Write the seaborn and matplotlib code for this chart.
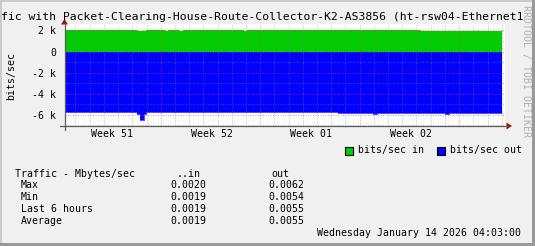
import datetime as dt
import numpy as np
import pandas as pd
import matplotlib
matplotlib.use("Agg")
import matplotlib.pyplot as plt
from matplotlib.patches import Rectangle, Polygon
from matplotlib.lines import Line2D
import seaborn as sns

# ---------------- data ----------------
title = "fic with Packet-Clearing-House-Route-Collector-K2-AS3856 (ht-rsw04-Ethernet1"
in_times = ["2025-12-15 05:30", "2025-12-20 08:30", "2025-12-20 23:00", "2025-12-22 07:15",
            "2025-12-22 12:20", "2025-12-23 07:00", "2025-12-23 13:40", "2025-12-27 19:00",
            "2025-12-28 01:40", "2026-01-09 06:00", "2026-01-15 00:00"]
in_bps = [2030, 1940, 2030, 1940, 2030, 1940, 2030, 1940, 2030, 1940, 1940]
out_times = ["2025-12-15 05:30", "2025-12-20 08:30", "2025-12-20 13:00", "2025-12-20 20:00",
             "2025-12-20 23:00", "2026-01-03 11:20", "2026-01-05 22:30", "2026-01-06 05:20",
             "2026-01-11 00:15", "2026-01-11 07:00", "2026-01-15 00:00"]
out_bps = [-5800, -5950, -6500, -5950, -5800, -5850, -5950, -5850, -5950, -5850, -5850]

week_labels = ["Week 51", "Week 52", "Week 01", "Week 02"]
week_iso = [(2025, 51), (2025, 52), (2026, 1), (2026, 2)]
y_major = [-6000, -4000, -2000, 0, 2000]
y_major_labels = ["-6 k", "-4 k", "-2 k", "0", "2 k"]
y_minor = [-7000, -5000, -3000, -1000, 1000]
y_label = "bits/sec"
legend_labels = ["bits/sec in", "bits/sec out"]
stat_header = ["Traffic - Mbytes/sec", "..in", "out"]
stat_rows = ["Max", "Min", "Last 6 hours", "Average"]
stat_in = ["0.0020", "0.0019", "0.0019", "0.0019"]
stat_out = ["0.0062", "0.0054", "0.0055", "0.0055"]
stamp = "Wednesday January 14 2026 04:03:00"
watermark = "RRDTOOL / TOBI OETIKER"
x_start = pd.Timestamp("2025-12-15 05:30")
x_end = pd.Timestamp("2026-01-15 05:30")

GREEN = "#00CC00"
BLUE = "#0000FF"

# ---------------- figure ----------------
sns.set_theme(style="white")
plt.rcParams["font.family"] = ["DejaVu Sans Mono"]
plt.rcParams["text.color"] = "black"
plt.rcParams["ytick.labelcolor"] = "black"
W, H = 535, 246
fig = plt.figure(figsize=(W / 100, H / 100), dpi=100, facecolor="#F0F0F0")

def fx(x):
    return x / W

def fy(y):
    return 1 - y / H

ax = fig.add_axes([fx(64.5), fy(126), (505 - 64.5) / W, 102 / H])
ax.set_facecolor("white")

df_in = pd.DataFrame({"t": pd.to_datetime(in_times), "v": in_bps})
df_out = pd.DataFrame({"t": pd.to_datetime(out_times), "v": out_bps})

ax.fill_between(df_in["t"], 0, df_in["v"], step="post", color=GREEN, lw=0, zorder=1)
ax.fill_between(df_out["t"], 0, df_out["v"], step="post", color=BLUE, lw=0, zorder=1)
sns.lineplot(data=df_in, x="t", y="v", ax=ax, color=GREEN, drawstyle="steps-post", lw=0.5, zorder=1.5)
sns.lineplot(data=df_out, x="t", y="v", ax=ax, color=BLUE, drawstyle="steps-post", lw=0.5, zorder=1.5)

ax.set_xlim(x_start, x_end)
ax.set_ylim(-7095, 2619)
ax.set_xlabel("")
ax.set_ylabel("")

minor_c = (0.5, 0.5, 0.5, 0.5)
major_c = (1.0, 0.2, 0.2, 0.55)
dots = (0, (1, 1.5))

# vertical grid: days (minor) and Mondays (major)
day = pd.Timestamp(x_start.date()) + pd.Timedelta(days=1)
while day < x_end:
    if day.weekday() == 0:
        ax.axvline(day, color=major_c, lw=0.72, ls=dots, zorder=3)
    else:
        ax.axvline(day, color=minor_c, lw=0.72, ls=dots, zorder=3)
    day += pd.Timedelta(days=1)
for v in y_minor:
    ax.axhline(v, color=minor_c, lw=0.72, ls=dots, zorder=3)
for v in y_major:
    ax.axhline(v, color=major_c, lw=0.72, ls=dots, zorder=3)

ax.set_yticks(y_major)
ax.set_yticklabels(y_major_labels, fontsize=7.1, color="black")
ax.set_yticks(y_minor, minor=True)
ax.tick_params(axis="y", which="major", length=2.9, width=0.72, color=major_c, pad=3.2, labelcolor="black")
ax.tick_params(axis="y", which="minor", length=2.9, width=0.72, color=minor_c)
ax.set_xticks([])
for s in ax.spines.values():
    s.set_visible(False)

# week labels
for lab, (yr, wk) in zip(week_labels, week_iso):
    mid = pd.Timestamp(dt.datetime.combine(dt.date.fromisocalendar(yr, wk, 4), dt.time(14, 0)))
    ax.text(mid, -0.11, lab, transform=ax.get_xaxis_transform(), ha="center",
            va="baseline", fontsize=7.1, color="black")

# axes lines with arrows (figure px)
axis_c = "#5a5a5a"
arrow_c = "#9a1515"
fig.add_artist(Line2D([fx(60), fx(507)], [fy(126), fy(126)], color=axis_c, lw=0.9))
fig.add_artist(Line2D([fx(64.5), fx(64.5)], [fy(130), fy(23)], color=axis_c, lw=0.9))
fig.add_artist(Polygon([[fx(506.5), fy(122.5)], [fx(512), fy(126)], [fx(506.5), fy(129.5)]],
                       closed=True, transform=fig.transFigure, color=arrow_c, lw=0))
fig.add_artist(Polygon([[fx(61), fy(24.5)], [fx(64.5), fy(19)], [fx(68), fy(24.5)]],
                       closed=True, transform=fig.transFigure, color=arrow_c, lw=0))

# title and y label
fig.text(fx(1), fy(20), title, fontsize=8.2, ha="left", va="baseline", color="black")
fig.text(fx(11), fy(75.5), y_label, rotation=90, fontsize=7.1, ha="center", va="center", color="black")

# watermark
fig.text(fx(526), fy(71), watermark, rotation=-90, fontsize=7.1, ha="center", va="center",
         color="#b0b0b0")

# legend
for (sx, tx), col, lab in zip([(344.5, 357.7), (436.7, 449.5)], [GREEN, BLUE], legend_labels):
    fig.add_artist(Rectangle((fx(sx), fy(155)), 8.5 / W, 8.5 / H, transform=fig.transFigure,
                             facecolor=col, edgecolor="black", lw=0.8))
    fig.text(fx(tx), fy(153), lab, fontsize=7.1, ha="left", va="baseline", color="black")

# stats table
fig.text(fx(15), fy(177), stat_header[0], fontsize=7.1, ha="left", va="baseline", color="black")
fig.text(fx(200.5), fy(177), stat_header[1], fontsize=7.1, ha="right", va="baseline", color="black")
fig.text(fx(271.7), fy(177), stat_header[2], fontsize=7.1, ha="left", va="baseline", color="black")
for i, (r, a, b) in enumerate(zip(stat_rows, stat_in, stat_out)):
    y = [188.5, 200.5, 212.5, 224.3][i]
    fig.text(fx(20.7), fy(y), r, fontsize=7.1, ha="left", va="baseline", color="black")
    fig.text(fx(170), fy(y), a, fontsize=7.1, ha="left", va="baseline", color="black")
    fig.text(fx(268.4), fy(y), b, fontsize=7.1, ha="left", va="baseline", color="black")

fig.text(fx(316.7), fy(236), stamp, fontsize=7.1, ha="left", va="baseline", color="black")

# 3D frame
fig.add_artist(Rectangle((0, fy(2)), 1, 2 / H, transform=fig.transFigure, color="#CBCBCB", lw=0))
fig.add_artist(Rectangle((0, 0), 2 / W, 1, transform=fig.transFigure, color="#CBCBCB", lw=0))
fig.add_artist(Rectangle((fx(532), 0), 3 / W, 1, transform=fig.transFigure, color="#999999", lw=0))
fig.add_artist(Rectangle((0, 0), 1, 3 / H, transform=fig.transFigure, color="#999999", lw=0))

fig.savefig("out.png", dpi=100, facecolor=fig.get_facecolor())
